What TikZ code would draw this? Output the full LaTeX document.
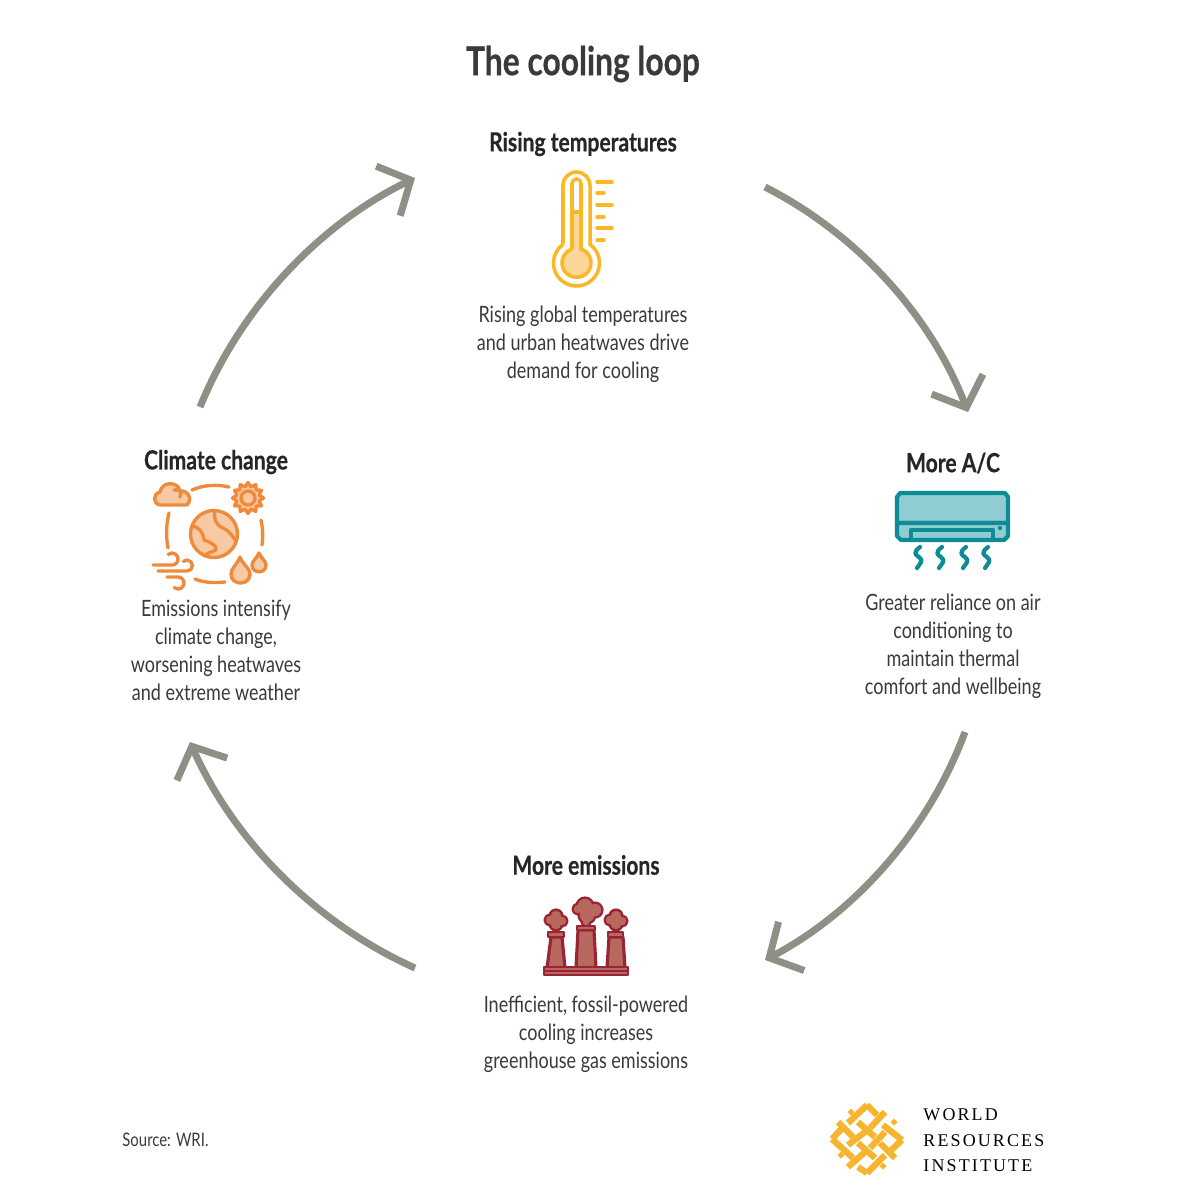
\documentclass[tikz,border=0pt]{standalone}
\usepackage{fontspec}
\usepackage{xcolor}
\usetikzlibrary{arrows.meta,shapes.geometric}
\setmainfont[FakeStretch=0.8,BoldFeatures={FakeBold=0.5}]{Lato}
\newfontfamily\logofont[LetterSpace=12]{Liberation Serif}

\definecolor{arrowgray}{HTML}{8F8F86}
\definecolor{textdark}{HTML}{3A3A3A}
\definecolor{heatline}{HTML}{FBB724}
\definecolor{heatfill}{HTML}{FDD79A}
\definecolor{acline}{HTML}{0E8C96}
\definecolor{acfill}{HTML}{8FCDD2}
\definecolor{smokeline}{HTML}{9A2433}
\definecolor{smokefill}{HTML}{B8695F}
\definecolor{earthline}{HTML}{EE8A3A}
\definecolor{earthfill}{HTML}{F7C9A4}
\definecolor{logogold}{HTML}{F7B52F}

\tikzset{
    loopArrow/.style = {draw = arrowgray, line width = 2pt, -{Straight Barb[length = 2.5mm, width = 5.5mm, line cap = butt]}, bend left = 21, looseness = 0.87},
    titleText/.style = {font = \fontsize{11.3}{13}\selectfont\bfseries, text = textdark},
    headText/.style = {font = \fontsize{7.5}{9}\selectfont\bfseries, text = black!85},
    bodyText/.style = {font = \fontsize{6.4}{7.95}\selectfont, text = textdark, align = center},
    heatIcon/.style = {draw = heatline, line width = 1pt},
    acIcon/.style = {draw = acline, line width = 1.2pt, line join = round},
    smokeIcon/.style = {draw = smokeline, fill = smokefill, line width = 0.9pt, line join = round},
    earthIcon/.style = {draw = earthline, line width = 0.95pt, line cap = round, line join = round},
    logoBar/.style = {draw = logogold, line width = 1.8pt},
    logoText/.style = {font = \fontsize{5.1}{6.2}\selectfont\logofont, text = black, anchor = west}
}

\begin{document}
\begin{tikzpicture}[x = 0.01cm, y = -0.01cm]

    \useasboundingbox (0,0) rectangle (1200,1196);

    % title
    \node [titleText] (title) at (583,64) {The cooling loop};

    % labels
    \node [headText] (rising) at (583,144) {Rising temperatures};
    \node [headText] (moreac) at (953,463) {More A/C};
    \node [headText] (emissions) at (586,865) {More emissions};
    \node [headText] (climate) at (216,462) {Climate change};

    \node [bodyText] (risingtext) at (583,344.5) {Rising global temperatures\\and urban heatwaves drive\\demand for cooling};
    \node [bodyText] (moreactext) at (953,646) {Greater reliance on air\\conditioning to\\maintain thermal\\comfort and wellbeing};
    \node [bodyText] (emissionstext) at (586,1034.5) {Inefficient, fossil-powered\\cooling increases\\greenhouse gas emissions};
    \node [bodyText] (climatetext) at (216,650) {Emissions intensify\\climate change,\\worsening heatwaves\\and extreme weather};

    \node [font = \fontsize{5.3}{7}\selectfont, text = textdark, anchor = west] (source) at (110,1140) {Source: WRI.};

    % arrows
    \coordinate (a1) at (765,187);
    \coordinate (a2) at (968,412);
    \coordinate (b1) at (965,732);
    \coordinate (b2) at (765,960);
    \coordinate (c1) at (415,968);
    \coordinate (c2) at (190,742);
    \coordinate (d1) at (200,407);
    \coordinate (d2) at (415,178);

    \draw [loopArrow] (a1) to (a2);
    \draw [loopArrow] (b1) to (b2);
    \draw [loopArrow] (c1) to (c2);
    \draw [loopArrow] (d1) to (d2);

    % thermometer
    \fill [heatfill] (576.5,263) circle (14);
    \fill [heatfill] (572,212) rectangle (581,255);
    \draw [heatIcon] (563,244.4) -- (563,185.5) arc (180:360:13.5) -- (590,244.4) arc (-54:234:23);
    \draw [heatIcon] (572,249) -- (572,183.5) arc (180:360:4.5) -- (581,249) arc (-72:252:14.5);
    \draw [heatIcon] (572,212) -- (581,212);
    \foreach \tickY/\tickEnd in {182/612,193/604,205/612,217/604,228/612,240/604}
        \draw [heatIcon, line cap = round] (597,\tickY) -- (\tickEnd,\tickY);

    % air conditioner
    \filldraw [acIcon, fill = acfill] (897,523) -- (897,497) -- (900,493) -- (1005,493) -- (1008,497) -- (1008,523) -- cycle;
    \filldraw [acIcon, fill = acfill] (897,523) -- (897,536) -- (901,540) -- (1004,540) -- (1008,536) -- (1008,523) -- cycle;
    \draw [acIcon] (911,539) -- (911,530) -- (993,530) -- (993,539);
    \fill [acline] (1000,528) circle (2.2);
    \foreach \waveX in {919,941,965,987}
        \draw [acIcon, line cap = round, line width = 1.2pt] (\waveX+1,547) .. controls (\waveX-7,553) and (\waveX-3,555) .. (\waveX,557) .. controls (\waveX+5,561) and (\waveX+1,563) .. (\waveX-2,568);

    % factory
    \foreach \smokeX/\smokeY/\smokeR in {556/916/6,550/920/5,562/921/5,556/924/6,
        585/906/8,578/909/5,595/910/7,587/915/8,586/922/4,
        616/916/6,610/920/5,622/921/5,616/924/6}
        \filldraw [smokeIcon] (\smokeX,\smokeY) circle (\smokeR);
    \foreach \smokeX/\smokeY/\smokeR in {556/916/6,550/920/5,562/921/5,556/924/6,
        585/906/8,578/909/5,595/910/7,587/915/8,586/922/4,
        616/916/6,610/920/5,622/921/5,616/924/6}
        \fill [smokefill] (\smokeX,\smokeY) circle (\smokeR-0.8);
    \filldraw [smokeIcon] (551,937) -- (562,937) -- (565,968) -- (547,968) -- cycle;
    \filldraw [smokeIcon] (578,930) -- (594,930) -- (596,968) -- (576,968) -- cycle;
    \filldraw [smokeIcon] (609,937) -- (623,937) -- (625,968) -- (607,968) -- cycle;
    \filldraw [smokeIcon, line width = 0.7pt] (548,932) rectangle (564,937);
    \filldraw [smokeIcon, line width = 0.7pt] (577,926) rectangle (595,930);
    \filldraw [smokeIcon, line width = 0.7pt] (608,932) rectangle (623,937);
    \filldraw [smokeIcon, line width = 0.6pt] (544,967) rectangle (628,975);
    \draw [smokeIcon, line width = 0.6pt] (544,971) -- (628,971);

    % earth
    \filldraw [earthIcon, fill = earthfill] (214,534) circle (23.5);
    \draw [earthIcon] (192,526) .. controls (200,527) and (203,533) .. (204,540) .. controls (210,542) and (217,545) .. (216,550) .. controls (212,552) and (207,553) .. (204,556);
    \draw [earthIcon] (215,511) .. controls (213,518) and (216,525) .. (223,528) .. controls (228,530) and (232,535) .. (236,541);

    % orbit
    \draw [earthIcon] (192,490) .. controls (203,485) and (217,484) .. (229,487);
    \draw [earthIcon] (169,513) .. controls (166,525) and (166,537) .. (168,548);
    \draw [earthIcon] (261,520) .. controls (263,529) and (263,537) .. (262,545);
    \draw [earthIcon] (195,579) .. controls (205,583) and (215,583) .. (225,582);

    % cloud
    \filldraw [earthIcon, fill = earthfill] (161,505) .. controls (153,505) and (152,494) .. (160,492) .. controls (162,481) and (178,481) .. (180,491) .. controls (188,490) and (193,499) .. (187,505) -- cycle;
    \draw [earthIcon] (174,490) .. controls (176,489) and (178,490) .. (180,491) .. controls (181,494) and (181,495) .. (180,497);

    % sun
    \filldraw [earthIcon, fill = earthfill] plot [samples at = {0,15,...,345}, variable = \sunA] ({248+(15.5-4*mod(\sunA/15,2))*cos(\sunA)},{498+(15.5-4*mod(\sunA/15,2))*sin(\sunA)}) -- cycle;
    \draw [earthIcon] (248,498) circle (7);

    % wind
    \draw [earthIcon] (153,565) -- (172,565) arc (90:-130:6);
    \draw [earthIcon] (158,571) -- (187,571) arc (90:-130:5.5);
    \draw [earthIcon] (167,577) -- (178,577) arc (-90:130:6);

    % drops
    \filldraw [earthIcon, fill = earthfill] (240,557) .. controls (237,565) and (231,568) .. (231,574) .. controls (231,586) and (250,586) .. (250,574) .. controls (250,568) and (243,565) .. (240,557) -- cycle;
    \filldraw [earthIcon, fill = earthfill] (259,553) .. controls (257,558) and (252,561) .. (252,565) .. controls (252,574) and (266,574) .. (266,565) .. controls (266,561) and (261,558) .. (259,553) -- cycle;

    % logo
    \foreach \barA/\barB/\barC/\barD in {848/1123/867/1105,870/1128/885/1112,848/1145/865/1132,870/1148/885/1132,848/1167/865/1152,867/1173/885/1155,888/1153/902/1140,832/1139/845/1125,
        867/1105/877/1115,838/1122/853/1137,858/1122/875/1137,883/1125/902/1140,832/1139/853/1158,858/1143/875/1158,880/1143/895/1158,858/1167/867/1173}
        \draw [logoBar] (\barA,\barB) -- (\barC,\barD);
    \foreach \dotX/\dotY in {851/1112,894/1122,841/1155,883/1166}
        \fill [logogold] (\dotX,\dotY-3.5) -- (\dotX+3.5,\dotY) -- (\dotX,\dotY+3.5) -- (\dotX-3.5,\dotY) -- cycle;

    \node [logoText] (world) at (911,1115) {WORLD};
    \node [logoText] (resources) at (911,1141) {RESOURCES};
    \node [logoText] (institute) at (911,1166) {INSTITUTE};

\end{tikzpicture}
\end{document}
